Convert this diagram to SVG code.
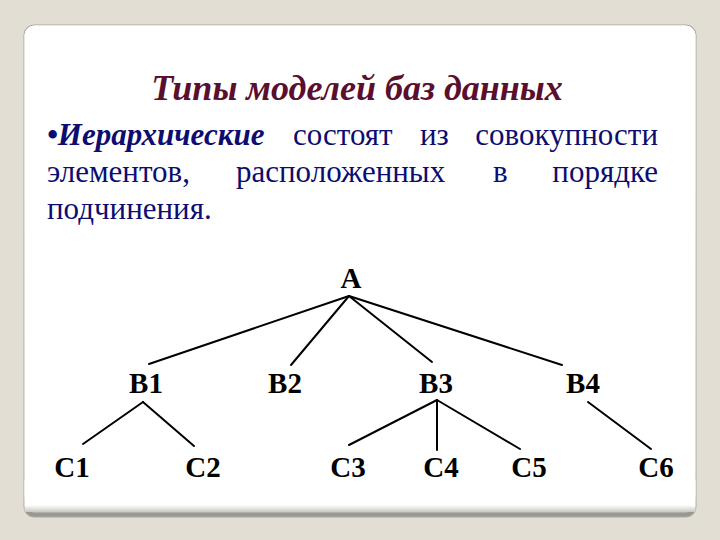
<svg xmlns="http://www.w3.org/2000/svg" width="720" height="540" viewBox="0 0 720 540">
  <defs>
    <linearGradient id="shade" x1="0" y1="0" x2="0" y2="1">
      <stop offset="0" stop-color="#ffffff"/>
      <stop offset="1" stop-color="#c9c7c2"/>
    </linearGradient>
    <style>
      .title { font-family: "Liberation Serif", "DejaVu Serif", serif; font-weight: bold; font-style: italic; font-size: 36px; fill: #5a0f2f; }
      .body { font-family: "Liberation Serif", "DejaVu Serif", serif; font-size: 31px; fill: #0d0d70; }
      .bi { font-weight: bold; font-style: italic; }
      .node { font-family: "Liberation Serif", "DejaVu Serif", serif; font-weight: bold; font-size: 29px; fill: #000; text-anchor: middle; }
      .edge { stroke: #000; stroke-width: 2; fill: none; stroke-linecap: round; }
    </style>
  </defs>
  <rect x="0" y="0" width="720" height="540" fill="#e3ded4"/>
  <!-- card -->
  <rect x="24" y="25" width="672" height="492" rx="10" fill="#9a9892" stroke="#a9a7a1" stroke-width="1"/>
  <rect x="24.5" y="25.5" width="671" height="487" rx="10" fill="url(#shade)"/>
  <rect x="24.5" y="25.5" width="671" height="480" rx="10" fill="#ffffff"/>
  <rect x="24.5" y="480" width="671" height="26" fill="#ffffff"/>
  <rect x="24.5" y="505" width="671" height="7" fill="url(#shade)"/>

  <text class="title" x="357" y="100" text-anchor="middle">Типы моделей баз данных</text>

  <g id="paragraph" class="body">
    <text x="47" y="145"><tspan class="bi">•Иерархические</tspan></text>
    <text x="293" y="145">состоят</text>
    <text x="420" y="145">из</text>
    <text x="658" y="145" text-anchor="end">совокупности</text>
    <text x="47" y="182">элементов,</text>
    <text x="236" y="182">расположенных</text>
    <text x="493" y="182">в</text>
    <text x="658" y="182" text-anchor="end">порядке</text>
    <text x="47" y="219">подчинения.</text>
  </g>

  <g id="connectors">
    <line class="edge" x1="349" y1="296" x2="149" y2="364"/>
    <line class="edge" x1="349" y1="296" x2="291" y2="365"/>
    <line class="edge" x1="349" y1="296" x2="432" y2="362"/>
    <line class="edge" x1="349" y1="296" x2="562" y2="365"/>
    <line class="edge" x1="143" y1="402" x2="83" y2="444"/>
    <line class="edge" x1="143" y1="402" x2="194" y2="446"/>
    <line class="edge" x1="437" y1="400" x2="349" y2="445"/>
    <line class="edge" x1="437" y1="400" x2="437" y2="450"/>
    <line class="edge" x1="437" y1="400" x2="520" y2="449"/>
    <line class="edge" x1="588" y1="402" x2="651" y2="449"/>
  </g>

  <g id="node-A"><text class="node" x="351" y="288">A</text></g>
  <g id="node-B1"><text class="node" x="146" y="393">B1</text></g>
  <g id="node-B2"><text class="node" x="285" y="393">B2</text></g>
  <g id="node-B3"><text class="node" x="436" y="393">B3</text></g>
  <g id="node-B4"><text class="node" x="583" y="393">B4</text></g>
  <g id="node-C1"><text class="node" x="72" y="477">C1</text></g>
  <g id="node-C2"><text class="node" x="203" y="477">C2</text></g>
  <g id="node-C3"><text class="node" x="348" y="477">C3</text></g>
  <g id="node-C4"><text class="node" x="441" y="477">C4</text></g>
  <g id="node-C5"><text class="node" x="529" y="477">C5</text></g>
  <g id="node-C6"><text class="node" x="656" y="477">C6</text></g>
</svg>
